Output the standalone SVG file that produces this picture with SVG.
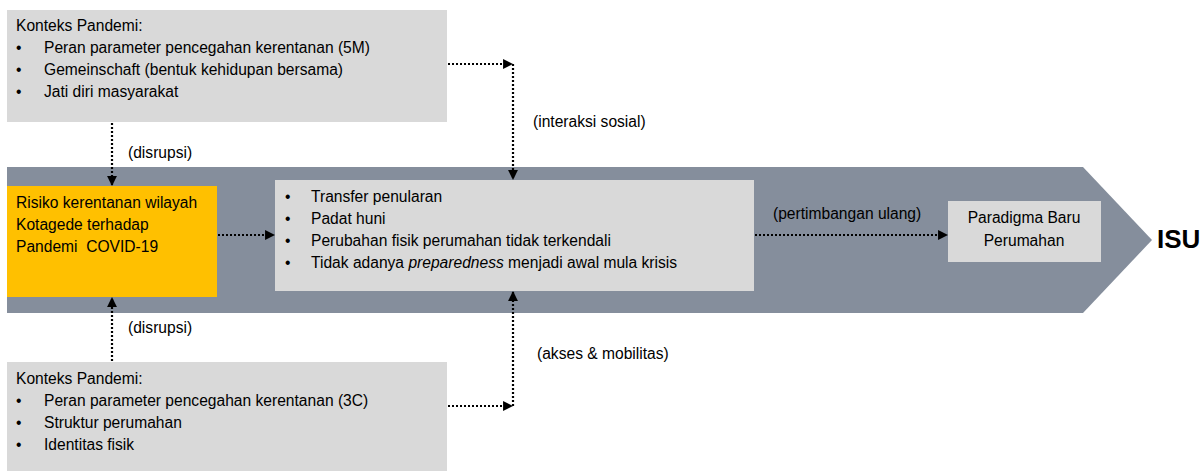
<svg xmlns="http://www.w3.org/2000/svg" width="1204" height="471" viewBox="0 0 1204 471">
<style>
text{font-family:"Liberation Sans",Arial,sans-serif;font-size:15.6px;fill:#000}
.box{fill:#d9d9d9}
.dot{fill:none;stroke:#000;stroke-width:2.2;stroke-dasharray:2 2}
.isu{font-size:26px;font-weight:bold}
</style>
<defs>
<marker id="ah" viewBox="0 0 10 10" refX="9" refY="5" markerWidth="4.5" markerHeight="4.5" orient="auto" markerUnits="strokeWidth">
<path d="M0,0 L10,5 L0,10 z" fill="#000"/>
</marker>
</defs>
<g id="band"><polygon points="7,167 1083,167 1152,240 1083,313 7,313" fill="#858e9c"/></g>
<g id="top-context">
<rect class="box" x="7" y="10" width="440" height="112"/>
<text x="16" y="31">Konteks Pandemi:</text>
<text x="16" y="53">•</text><text x="44" y="53">Peran parameter pencegahan kerentanan (5M)</text>
<text x="16" y="75">•</text><text x="44" y="75">Gemeinschaft (bentuk kehidupan bersama)</text>
<text x="16" y="97">•</text><text x="44" y="97">Jati diri masyarakat</text>
</g>
<g id="risk">
<rect x="7" y="186" width="210" height="111" fill="#ffc000"/>
<text x="16" y="208">Risiko kerentanan wilayah</text>
<text x="16" y="230">Kotagede terhadap</text>
<text x="16" y="252" xml:space="preserve">Pandemi  COVID-19</text>
</g>
<g id="issues">
<rect class="box" x="275" y="180" width="479" height="111"/>
<text x="285" y="202">•</text><text x="311" y="202">Transfer penularan</text>
<text x="285" y="224">•</text><text x="311" y="224">Padat huni</text>
<text x="285" y="246">•</text><text x="311" y="246">Perubahan fisik perumahan tidak terkendali</text>
<text x="285" y="268">•</text><text x="311" y="268">Tidak adanya <tspan font-style="italic">preparedness</tspan> menjadi awal mula krisis</text>
</g>
<g id="paradigm">
<rect class="box" x="948" y="201" width="153" height="61"/>
<text x="1024" y="223" text-anchor="middle">Paradigma Baru</text>
<text x="1024" y="246" text-anchor="middle">Perumahan</text>
</g>
<g id="isu"><text class="isu" x="1157" y="248">ISU</text></g>
<g id="bottom-context">
<rect class="box" x="7" y="362" width="440" height="109"/>
<text x="16" y="384">Konteks Pandemi:</text>
<text x="16" y="406">•</text><text x="44" y="406">Peran parameter pencegahan kerentanan (3C)</text>
<text x="16" y="428">•</text><text x="44" y="428">Struktur perumahan</text>
<text x="16" y="450">•</text><text x="44" y="450">Identitas fisik</text>
</g>
<g id="connectors">
<path class="dot" d="M112,123 V185" marker-end="url(#ah)"/>
<path class="dot" d="M112,361 V298" marker-end="url(#ah)"/>
<path class="dot" d="M218,235 H274" marker-end="url(#ah)"/>
<path class="dot" d="M755,235 H947" marker-end="url(#ah)"/>
<path class="dot" d="M448,64 H512" marker-end="url(#ah)"/>
<path class="dot" d="M513,64 V179" marker-end="url(#ah)"/>
<path class="dot" d="M448,406 H512" marker-end="url(#ah)"/>
<path class="dot" d="M513,406 V292" marker-end="url(#ah)"/>
</g>
<g id="labels">
<text x="128" y="158">(disrupsi)</text>
<text x="128" y="333">(disrupsi)</text>
<text x="533" y="127">(interaksi sosial)</text>
<text x="537" y="359">(akses &amp; mobilitas)</text>
<text x="773" y="219">(pertimbangan ulang)</text>
</g>
</svg>
